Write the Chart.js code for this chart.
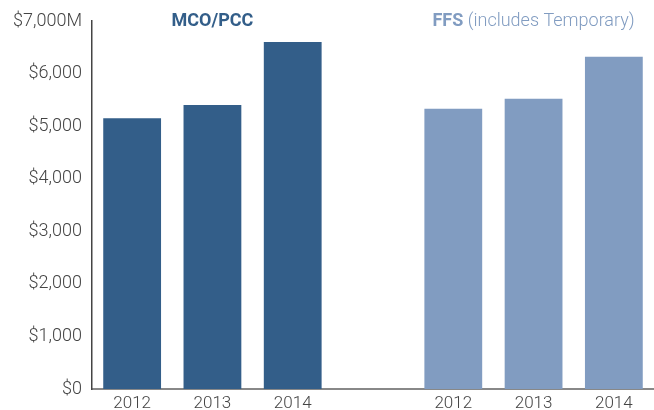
<!DOCTYPE html>
<html>
<head>
<meta charset="utf-8">
<script src="https://cdn.jsdelivr.net/npm/chart.js@4/dist/chart.umd.min.js"></script>
<style>
  html, body { margin: 0; padding: 0; background: #fff; }
  #wrap { width: 654px; height: 410px; }
</style>
</head>
<body>
<div id="wrap"><canvas id="chart"></canvas></div>
<script>
// data ($ millions)
const years = ['2012', '2013', '2014', '', '2012', '2013', '2014'];
const mcoValues = [5150, 5400, 6600, null, null, null, null];
const ffsValues = [null, null, null, null, 5330, 5520, 6320];
const yTicks = [0, 1000, 2000, 3000, 4000, 5000, 6000, 7000];

const darkBlue = '#335e89';
const lightBlue = '#819cc1';
const fontFamily = 'Roboto, "Liberation Sans", sans-serif';

// group titles above the bars
const groupTitles = {
  id: 'groupTitles',
  afterDatasetsDraw(chart) {
    const ctx = chart.ctx;
    const x = chart.scales.x;
    ctx.save();
    ctx.textBaseline = 'middle';

    ctx.font = 'bold 18px ' + fontFamily;
    ctx.fillStyle = darkBlue;
    ctx.textAlign = 'center';
    ctx.fillText('MCO/PCC', x.getPixelForValue(1), 21);

    const boldPart = 'FFS';
    const restPart = ' (includes Temporary)';
    ctx.font = 'bold 18px ' + fontFamily;
    const w1 = ctx.measureText(boldPart).width;
    ctx.font = '300 18px ' + fontFamily;
    const w2 = ctx.measureText(restPart).width;
    const start = x.getPixelForValue(5) - (w1 + w2) / 2;
    ctx.textAlign = 'left';
    ctx.fillStyle = lightBlue;
    ctx.font = 'bold 18px ' + fontFamily;
    ctx.fillText(boldPart, start, 21);
    ctx.font = '300 18px ' + fontFamily;
    ctx.fillText(restPart, start + w1, 21);
    ctx.restore();
  }
};

new Chart(document.getElementById('chart'), {
  type: 'bar',
  data: {
    labels: years,
    datasets: [
      { label: 'MCO/PCC', data: mcoValues, backgroundColor: darkBlue },
      { label: 'FFS', data: ffsValues, backgroundColor: lightBlue }
    ]
  },
  options: {
    responsive: true,
    maintainAspectRatio: false,
    animation: false,
    layout: { padding: { top: 21, right: 0, bottom: 0, left: 0 } },
    datasets: { bar: { barPercentage: 0.72, categoryPercentage: 1 } },
    plugins: { legend: { display: false }, tooltip: { enabled: false } },
    scales: {
      x: {
        stacked: true,
        grid: { display: false, drawTicks: false },
        border: { display: true, color: '#888', width: 2 },
        ticks: { color: '#444', font: { family: fontFamily, size: 17, weight: 300 }, padding: 5 },
        afterFit(scale) { scale.height = 21; }
      },
      y: {
        stacked: true,
        min: 0,
        max: 7000,
        afterBuildTicks(scale) { scale.ticks = yTicks.map(v => ({ value: v })); },
        grid: { display: false, drawTicks: false },
        border: { display: true, color: '#444', width: 1.5 },
        ticks: {
          color: '#444',
          padding: 10,
          font: { family: fontFamily, size: 18, weight: 300 },
          callback: v => v === 7000 ? '$7,000M' : '$' + v.toLocaleString('en-US')
        },
        afterFit(scale) { scale.width = 92; }
      }
    }
  },
  plugins: [groupTitles]
});
</script>
</body>
</html>
